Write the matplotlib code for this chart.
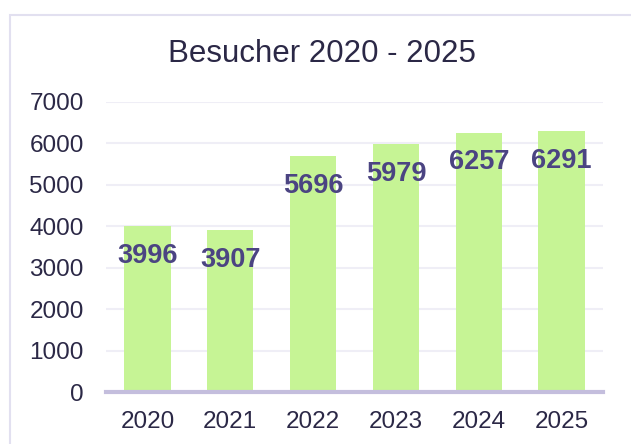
import matplotlib
matplotlib.use("Agg")
import matplotlib.pyplot as plt
from matplotlib.patches import Rectangle

# data
years = ["2020", "2021", "2022", "2023", "2024", "2025"]
visitors = [3996, 3907, 5696, 5979, 6257, 6291]
yticks = [0, 1000, 2000, 3000, 4000, 5000, 6000, 7000]

plt.rcParams["font.family"] = ["Liberation Sans", "DejaVu Sans"]

fig = plt.figure(figsize=(6.31, 4.44), dpi=100)
fig.patch.set_facecolor("white")

# card border (left and top visible, rest cut off)
fig.patches.append(Rectangle((10 / 631, -0.1), 1.2, 1 - 15 / 444 + 0.1,
                             transform=fig.transFigure, fill=False,
                             edgecolor="#e2e0f0", linewidth=1.5))

ax = fig.add_axes([106 / 631, 1 - 392 / 444, 497 / 631, (392 - 102) / 444])
x = range(len(years))
ax.bar(x, visitors, width=0.56, color="#c6f495", zorder=2)

ax.set_xlim(-0.5, len(years) - 0.5)
ax.set_ylim(0, 7000)
ax.set_yticks(yticks)
ax.set_xticks(list(x))
ax.set_xticklabels(years)
ax.grid(axis="y", color="#efeef6", linewidth=1.5, zorder=0)
ax.tick_params(axis="both", length=0, labelsize=17.5, colors="#2b2846")
ax.tick_params(axis="y", pad=16)
ax.tick_params(axis="x", pad=14)
for s in ["top", "right", "left"]:
    ax.spines[s].set_visible(False)
ax.spines["bottom"].set_color("#c4bedd")
ax.spines["bottom"].set_linewidth(3)
ax.spines["bottom"].set_zorder(3)

for xi, v in zip(x, visitors):
    ax.annotate(str(v), (xi, v), xytext=(0, -12), textcoords="offset points",
                ha="center", va="top", fontsize=19.5, fontweight="bold",
                color="#4b4482", zorder=4)

fig.text(322 / 631, 1 - 54 / 444, "Besucher 2020 - 2025", ha="center",
         va="center", fontsize=22.5, color="#2b2846")

fig.savefig("out.png", dpi=100)
